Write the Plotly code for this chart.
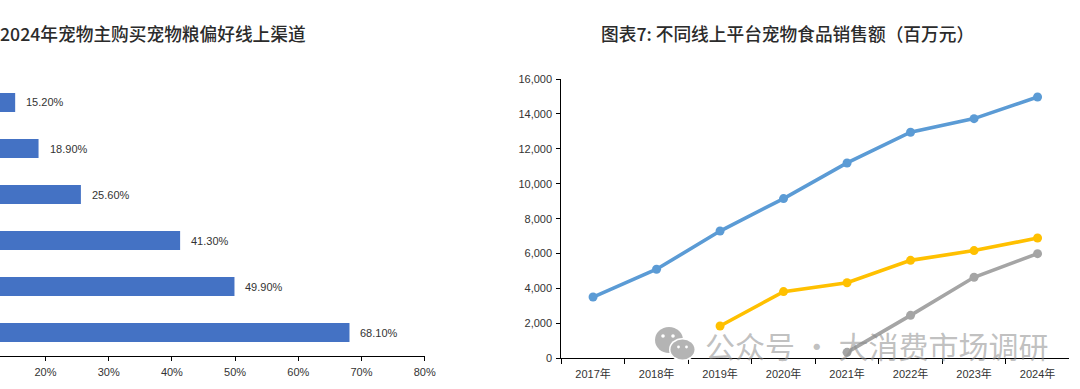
import plotly.graph_objects as go

W, H = 1080, 389
SANS = "Liberation Sans, Noto Sans CJK SC, sans-serif"
CJK = "Noto Sans CJK SC, sans-serif"
TXT = "#333333"

left_title = "2024年宠物主购买宠物粮偏好线上渠道"
right_title = "图表7: 不同线上平台宠物食品销售额（百万元）"
watermark = "公众号 · 大消费市场调研"

# Left chart (the category names are cropped out of the reference)
share_rows = [1, 2, 3, 4, 5, 6]
share_values = [68.1, 49.9, 41.3, 25.6, 18.9, 15.2]
share_labels = ["68.10%", "49.90%", "41.30%", "25.60%", "18.90%", "15.20%"]
share_ticks = [20, 30, 40, 50, 60, 70, 80]
share_ticktext = ["20%", "30%", "40%", "50%", "60%", "70%", "80%"]

# Right chart
years = ["2017年", "2018年", "2019年", "2020年", "2021年", "2022年", "2023年", "2024年"]
blue = [3510, 5100, 7290, 9150, 11190, 12950, 13730, 14970]
yellow = [None, None, 1850, 3820, 4330, 5610, 6170, 6890]
grey = [None, None, None, None, 340, 2460, 4640, 5995]
series = [("系列1", blue, "#5B9BD5"), ("系列2", yellow, "#FFC000"), ("系列3", grey, "#A5A5A5")]
sales_ticks = [0, 2000, 4000, 6000, 8000, 10000, 12000, 14000, 16000]

fig = go.Figure()
fig.add_trace(go.Bar(
    x=share_values, y=share_rows, orientation="h", marker=dict(color="#4472C4", line_width=0),
    width=0.41, xaxis="x", yaxis="y", showlegend=False, hoverinfo="skip"))
for name, vals, col in series:
    fig.add_trace(go.Scatter(
        x=years, y=vals, mode="lines+markers", name=name, xaxis="x2", yaxis="y2",
        line=dict(color=col, width=3.6), marker=dict(color=col, size=9),
        showlegend=False, cliponaxis=False))

annotations = [
    dict(x=v, y=r, xref="x", yref="y", text=t, showarrow=False, xanchor="left", xshift=9,
         font=dict(family=SANS, size=11, color=TXT))
    for v, r, t in zip(share_values, share_rows, share_labels)
]
annotations += [
    dict(x=0, y=1 - 32.5 / H, xref="paper", yref="paper", xanchor="left", yanchor="middle", xshift=-2,
         text=left_title, showarrow=False, font=dict(family=CJK, size=17.7, color="#2b2b2b", weight=500)),
    dict(x=599 / W, y=1 - 32.5 / H, xref="paper", yref="paper", xanchor="left", yanchor="middle",
         text=right_title, showarrow=False, font=dict(family=CJK, size=17.7, color="#2b2b2b", weight=500)),
    dict(x=703 / W, y=1 - 344.5 / H, xref="paper", yref="paper", xanchor="left", yanchor="middle",
         text=watermark, showarrow=False, font=dict(family=CJK, size=30, color="rgba(140,140,140,0.55)")),
]


def oval(cx, cy, rx, ry, color):
    return dict(type="circle", xref="paper", yref="paper", layer="above", line_width=0, fillcolor=color,
                x0=(cx - rx) / W, x1=(cx + rx) / W, y0=1 - (cy + ry) / H, y1=1 - (cy - ry) / H)


shapes = [
    oval(669, 340, 14, 13, "#b4b4b4"),
    oval(682.5, 349.5, 13.5, 11.5, "#ffffff"),
    oval(682.5, 349.5, 12, 10, "#b4b4b4"),
    oval(663, 336, 1.8, 1.8, "#ffffff"),
    oval(673, 336, 1.8, 1.8, "#ffffff"),
    oval(678.5, 347, 1.4, 1.4, "#ffffff"),
    oval(686.5, 347, 1.4, 1.4, "#ffffff"),
]

fig.update_layout(
    width=W, height=H, margin=dict(l=0, r=0, t=0, b=0),
    paper_bgcolor="white", plot_bgcolor="white", annotations=annotations, shapes=shapes,
    xaxis=dict(domain=[0, 424.7 / W], range=[12.8, 80], tickvals=share_ticks, ticktext=share_ticktext,
               showgrid=False, zeroline=False, showline=True, linecolor="black", linewidth=1, automargin=False,
               ticks="outside", ticklen=4, tickcolor="black", anchor="y", ticklabelstandoff=2,
               tickfont=dict(family=SANS, size=11, color=TXT)),
    yaxis=dict(domain=[1 - 355.5 / H, 1 - 79.5 / H], range=[0.5, 6.5], visible=False, anchor="x", automargin=False),
    xaxis2=dict(domain=[561.3 / W, 1069.3 / W], type="category", categoryorder="array", categoryarray=years,
                range=[-0.5, 7.5], tickson="boundaries", showgrid=False, zeroline=False, showline=True, automargin=False,
                linecolor="black", linewidth=1, ticks="outside", ticklen=5, tickcolor="black", anchor="y2",
                ticklabelstandoff=5, tickfont=dict(family=SANS, size=11, color=TXT)),
    yaxis2=dict(domain=[1 - 358.3 / H, 1 - 79 / H], range=[0, 16000], tickvals=sales_ticks, tickformat=",d",
                showgrid=False, zeroline=False, showline=True, linecolor="black", linewidth=1, automargin=False,
                ticks="outside", ticklen=4, tickcolor="black", anchor="x2", ticklabelstandoff=2,
                tickfont=dict(family=SANS, size=11, color=TXT)),
)

fig.write_html("out.html", config=dict(displayModeBar=False),
               post_script="document.body.style.margin='0';document.documentElement.style.overflow='hidden';")
